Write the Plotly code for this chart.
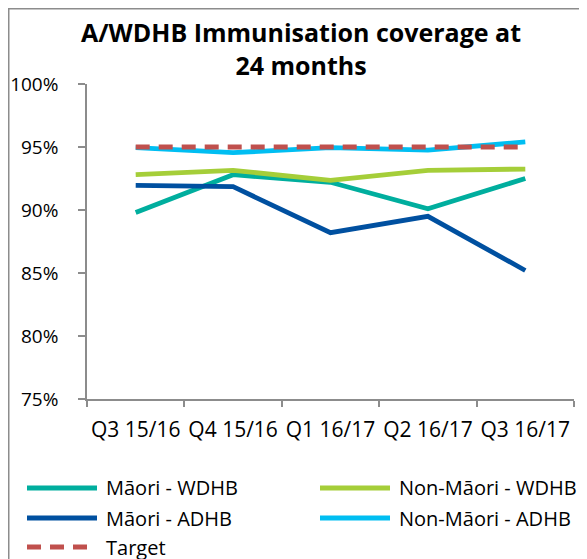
import plotly.graph_objects as go

categories = ["Q3 15/16", "Q4 15/16", "Q1 16/17", "Q2 16/17", "Q3 16/17"]
maori_wdhb = [89.8, 92.8, 92.2, 90.1, 92.5]
non_maori_wdhb = [92.8, 93.15, 92.35, 93.15, 93.25]
maori_adhb = [91.95, 91.85, 88.2, 89.5, 85.2]
non_maori_adhb = [94.95, 94.55, 94.95, 94.75, 95.4]
target = [95, 95, 95, 95, 95]

series = [
    ("Māori - WDHB", maori_wdhb, "#00AE9E", "solid"),
    ("Non-Māori - WDHB", non_maori_wdhb, "#A5CE39", "solid"),
    ("Māori - ADHB", maori_adhb, "#0050A0", "solid"),
    ("Non-Māori - ADHB", non_maori_adhb, "#00BEF2", "solid"),
    ("Target", target, "#C0504D", "14px,9px"),
]

# page body adds an 8px offset; work in reference page pixels and shift
OFF = 8
W, H = 587, 559
PL, PR, PT, PB = 87, 574, 84, 399  # plot area in page pixels
L, T = PL - OFF, PT - OFF
R, B = W - (PR - OFF), H - (PB - OFF)
pw, ph = PR - PL, PB - PT

def px(x):
    return (x - PL) / pw

def py(y):
    return (PB - y) / ph

FONT = "Open Sans"
fig = go.Figure()
for name, vals, col, dash in series:
    fig.add_trace(go.Scatter(x=categories, y=vals, mode="lines", name=name,
                             line=dict(color=col, width=4.8, dash=dash),
                             showlegend=False))

shapes = [dict(type="rect", xref="paper", yref="paper",
               x0=px(OFF + 0.75), x1=px(620), y0=py(620), y1=py(OFF + 0.75),
               line=dict(color="#8C8C8C", width=1.5), fillcolor="rgba(0,0,0,0)",
               layer="below")]
annotations = [dict(text="<b>A/WDHB Immunisation coverage at<br>24 months</b>",
                    xref="paper", yref="paper", x=px(301), y=py(49),
                    xanchor="center", yanchor="middle", showarrow=False,
                    font=dict(family=FONT, size=25, color="#000000"))]

legend_pos = [
    (27, 97, 104, 488),
    (320, 390, 397, 488),
    (27, 97, 104, 518),
    (320, 390, 397, 518),
    (27, 89, 104, 547),
]
for (name, vals, col, dash), (lx0, lx1, tx, ly) in zip(series, legend_pos):
    shapes.append(dict(type="line", xref="paper", yref="paper",
                       x0=px(lx0), x1=px(lx1), y0=py(ly), y1=py(ly),
                       line=dict(color=col, width=4.8,
                                 dash="14px,9px" if dash != "solid" else "solid")))
    annotations.append(dict(text=name, xref="paper", yref="paper",
                            x=px(tx), y=py(ly), xanchor="left", yanchor="middle",
                            showarrow=False,
                            font=dict(family=FONT, size=20, color="#000000")))

fig.update_layout(
    width=W, height=H,
    margin=dict(l=L, r=R, t=T, b=B, autoexpand=False),
    paper_bgcolor="white", plot_bgcolor="white",
    font=dict(family=FONT, size=20, color="#000000"),
    shapes=shapes, annotations=annotations,
    showlegend=False,
)
fig.update_xaxes(type="category", range=[-0.5, 4.5], showgrid=False,
                 showline=True, linecolor="#8C8C8C", linewidth=1.5,
                 ticks="outside", tickson="boundaries", ticklen=6,
                 tickcolor="#8C8C8C", tickwidth=1.5, ticklabelstandoff=11,
                 tickangle=0,
                 tickfont=dict(family=FONT, size=21, color="#000000"))
fig.update_yaxes(range=[75, 100], dtick=5, tick0=75, ticksuffix="%",
                 showgrid=False, zeroline=False,
                 showline=True, linecolor="#8C8C8C", linewidth=1.5,
                 ticks="outside", ticklen=7, tickcolor="#8C8C8C", tickwidth=1.5,
                 ticklabelstandoff=16,
                 tickfont=dict(family=FONT, size=19, color="#000000"))

fig.write_html("out.html")
